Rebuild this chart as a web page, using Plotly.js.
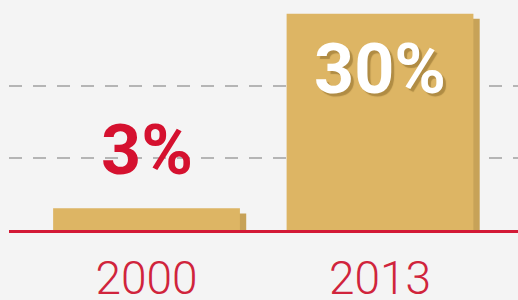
<!DOCTYPE html>
<html><head><meta charset="utf-8">
<script src="https://cdn.plot.ly/plotly-3.0.1.min.js"></script>
<style>html,body{margin:0;padding:0;background:#f4f4f4;}#chart{width:518px;height:300px;}</style>
</head><body><div id="chart"></div>
<script>
const categories = ["2000", "2013"];
const values = [3, 30];
const valueLabels = ["3%", "30%"];

const barColor = "#ddb564";
const shadowColor = "#c7a258";
const red = "#d5112f";

const shadowDrop = 0.7;
const shadowValues = values.map(v => v - shadowDrop);

const shadow = {
  type: "bar", x: categories, y: shadowValues,
  width: 0.8, offset: -0.4 + 0.027,
  marker: {color: shadowColor, line: {width: 0}},
  hoverinfo: "skip", showlegend: false
};
const bars = {
  type: "bar", x: categories, y: values,
  width: 0.8, offset: -0.4,
  marker: {color: barColor, line: {width: 0}},
  hoverinfo: "skip", showlegend: false
};

const annotations = [
  {x: 0, y: values[0], xref: "x", yref: "y", text: valueLabels[0],
   showarrow: false, yanchor: "bottom", yshift: 15,
   font: {family: "Roboto", size: 70, weight: 700, color: red}},
  {x: 1, y: values[1], xref: "x", yref: "y", text: valueLabels[1],
   showarrow: false, yanchor: "top", yshift: -12,
   font: {family: "Roboto", size: 70, weight: 700, color: "#ffffff",
          shadow: "3px 3px 1px #b08c44"}}
];

const layout = {
  width: 518, height: 300,
  margin: {l: 9, r: 0, t: 0, b: 70},
  paper_bgcolor: "#f4f4f4", plot_bgcolor: "#f4f4f4",
  barmode: "overlay",
  xaxis: {
    type: "category", range: [-0.589, 1.591],
    showgrid: false, zeroline: false,
    showline: true, linecolor: "#d31a36", linewidth: 3,
    ticks: "", ticklabelstandoff: 6,
    tickfont: {family: "Roboto", size: 46, weight: 300, color: "#d0243c"}
  },
  yaxis: {
    range: [0, 31.9], tickvals: [10, 20], showticklabels: false,
    showgrid: true, gridcolor: "#b5b5b5", gridwidth: 2, griddash: "13px,11px",
    zeroline: false, showline: false, fixedrange: true
  },
  annotations: annotations
};

Plotly.newPlot("chart", [shadow, bars], layout, {displayModeBar: false, staticPlot: true});
</script></body></html>
